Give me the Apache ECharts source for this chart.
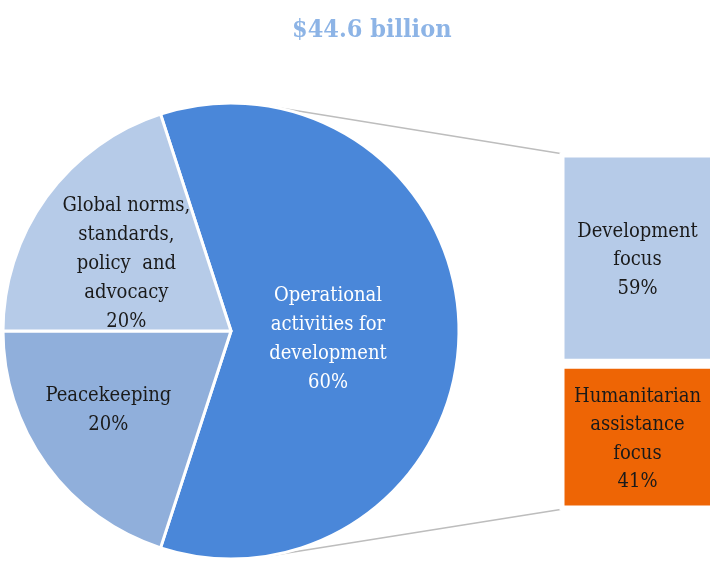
<!DOCTYPE html>
<html>
<head>
<meta charset="utf-8">
<script src="https://cdn.jsdelivr.net/npm/echarts@6/dist/echarts.min.js"></script>
<style>
  html, body { margin: 0; padding: 0; background: #fff; }
  #chart { width: 710px; height: 563px; }
</style>
</head>
<body>
<div id="chart"></div>
<script>
// Share of total funding by activity type (pie) and the split of the
// operational activities slice (stacked bar).
const totalLabel = '$44.6 billion';
const pieNames = ['Operational\nactivities for\ndevelopment', 'Peacekeeping', 'Global norms,\nstandards,\npolicy  and\nadvocacy'];
const pieValues = [60, 20, 20];
const barNames = ['Humanitarian\nassistance\nfocus', 'Development\nfocus'];
const barValues = [41, 59];

const serif = '"DejaVu Serif Condensed", "DejaVu Serif", serif';
const pieColors = ['#4A87D9', '#90AFDB', '#B6CBE8'];
const barColors = ['#EE6505', '#B6CBE8'];
const pieLabelColors = ['#ffffff', '#1a1a1a', '#1a1a1a'];

const pieCenter = [231, 331];
const pieRadius = 228;

const chart = echarts.init(document.getElementById('chart'), null, { renderer: 'canvas' });

const barSeries = barNames.map((name, i) => ({
  type: 'bar',
  name: name,
  stack: 'split',
  barWidth: 160,
  data: [barValues[i]],
  itemStyle: { color: barColors[i], borderColor: '#ffffff', borderWidth: 5 },
  label: {
    show: true,
    position: 'inside',
    formatter: p => p.seriesName + '\n' + p.value + '%',
    fontFamily: serif,
    fontSize: 20,
    lineHeight: 28.5,
    color: '#1a1a1a',
    offset: [-2, 2]
  },
  silent: true
}));

const pieLabelShift = [[-10, 4], [-14, 5.5], [-5, 1]];

chart.setOption({
  animation: false,
  title: {
    text: totalLabel,
    left: 287,
    top: 13,
    textStyle: { fontFamily: serif, fontWeight: 'bold', fontSize: 25, color: '#8DB4E6' }
  },
  grid: { left: 559.5, top: 152.5, width: 160, height: 358, outerBoundsMode: 'none', containLabel: false },
  xAxis: { type: 'category', data: ['split'], show: false },
  yAxis: { type: 'value', min: 0, max: 100, show: false },
  series: [
    {
      type: 'pie',
      center: pieCenter,
      radius: pieRadius,
      startAngle: 108,
      clockwise: true,
      silent: true,
      z: 3,
      data: pieNames.map((n, i) => ({
        name: n,
        value: pieValues[i],
        itemStyle: { color: pieColors[i] },
        label: { color: pieLabelColors[i] }
      })),
      itemStyle: { borderColor: '#ffffff', borderWidth: 3 },
      label: {
        show: true,
        position: 'inside',
        formatter: p => p.name + '\n' + p.value + '%',
        fontFamily: serif,
        fontSize: 20,
        lineHeight: 29
      },
      labelLine: { show: false },
      labelLayout: p => ({ dx: pieLabelShift[p.dataIndex][0], dy: pieLabelShift[p.dataIndex][1] })
    }
  ].concat(barSeries)
});

// Connector lines: from the bar's outer corners, tangent to the pie circle.
function tangentPoint(P, C, r, upper) {
  const dx = P[0] - C[0], dy = P[1] - C[1];
  const d = Math.hypot(dx, dy);
  const base = Math.atan2(dy, dx);
  const off = Math.acos(r / d);
  const a1 = base - off, a2 = base + off;
  const p1 = [C[0] + r * Math.cos(a1), C[1] + r * Math.sin(a1)];
  const p2 = [C[0] + r * Math.cos(a2), C[1] + r * Math.sin(a2)];
  if (upper) return p1[1] < p2[1] ? p1 : p2;
  return p1[1] > p2[1] ? p1 : p2;
}

const gridRect = chart.getModel().getComponent('grid').coordinateSystem.getRect();
const barLeft = gridRect.x + gridRect.width / 2 - 80 + 1;
const cornerTop = [barLeft, chart.convertToPixel({ gridIndex: 0 }, ['split', 100])[1] + 1];
const cornerBottom = [barLeft, chart.convertToPixel({ gridIndex: 0 }, ['split', 0])[1] - 1];
const tTop = tangentPoint(cornerTop, pieCenter, pieRadius, true);
const tBottom = tangentPoint(cornerBottom, pieCenter, pieRadius, false);

chart.setOption({
  graphic: [
    { type: 'line', z: 1, shape: { x1: tTop[0], y1: tTop[1], x2: cornerTop[0], y2: cornerTop[1] },
      style: { stroke: '#BDBDBD', lineWidth: 1.5 } },
    { type: 'line', z: 1, shape: { x1: tBottom[0], y1: tBottom[1], x2: cornerBottom[0], y2: cornerBottom[1] },
      style: { stroke: '#BDBDBD', lineWidth: 1.5 } }
  ]
});
</script>
</body>
</html>
